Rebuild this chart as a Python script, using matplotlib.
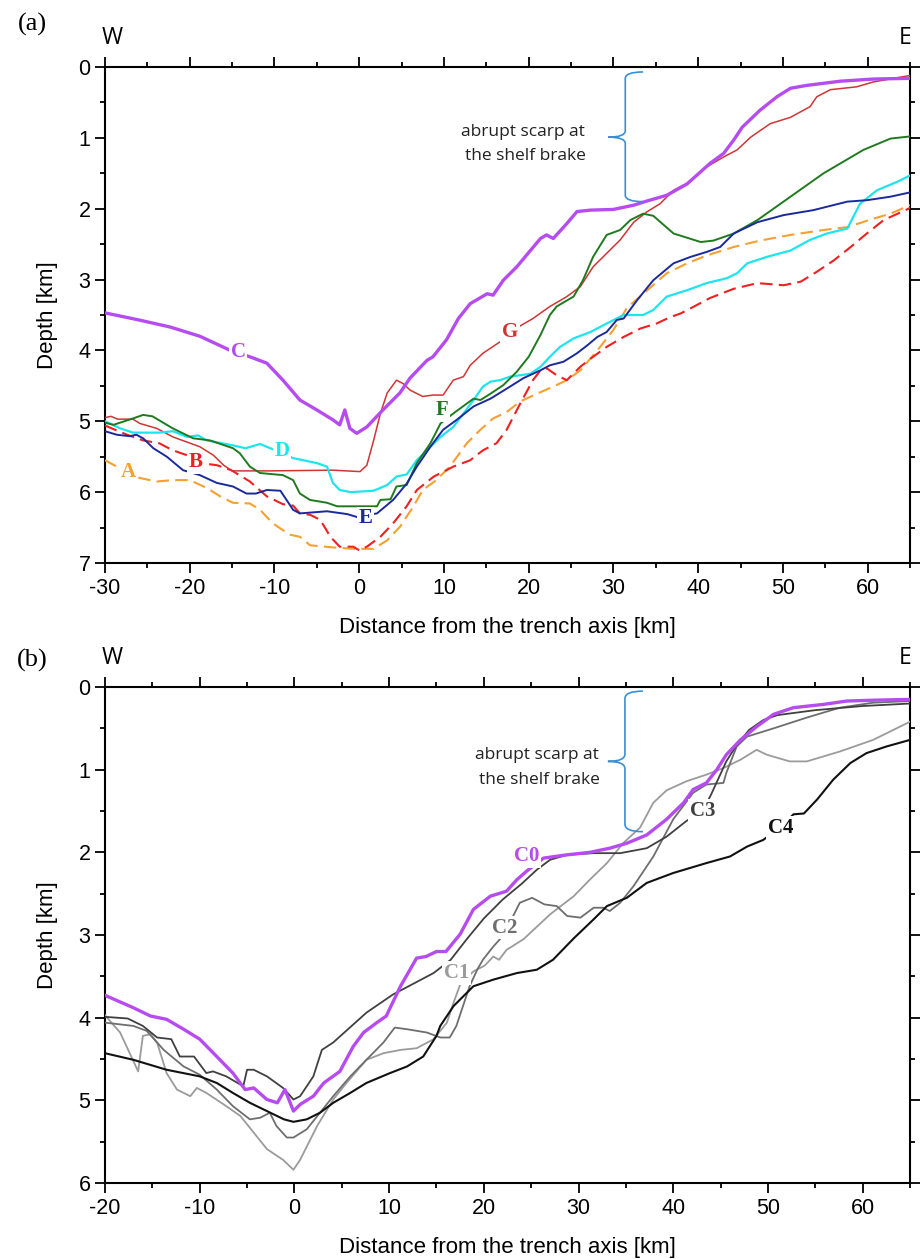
import numpy as np
import matplotlib
matplotlib.use("Agg")
import matplotlib.pyplot as plt
from matplotlib.ticker import MultipleLocator
from matplotlib.path import Path
from matplotlib.patches import PathPatch

plt.rcParams['font.family'] = ['Liberation Sans', 'DejaVu Sans']
plt.rcParams['axes.unicode_minus'] = False

# ---- panel (a): profiles A-G, (distance km, depth km) ----
prof_A = np.array([(-30, 5.55), (-28.6, 5.64), (-27.3, 5.73), (-25.9, 5.80), (-23.9, 5.85), (-22.0, 5.83),
                   (-20.0, 5.83), (-18.0, 5.94), (-16.4, 6.06), (-14.9, 6.15), (-12.9, 6.16), (-11.7, 6.25),
                   (-10.2, 6.44), (-8.2, 6.60), (-7.0, 6.63), (-5.8, 6.75), (-3.1, 6.78), (-0.7, 6.80),
                   (1.7, 6.80), (3.3, 6.68), (4.8, 6.49), (6.4, 6.20), (7.5, 5.97), (9.1, 5.83), (10.7, 5.64),
                   (12.7, 5.31), (14.3, 5.12), (15.8, 4.96), (17.4, 4.87), (19.0, 4.72), (21.0, 4.61),
                   (22.9, 4.51), (24.5, 4.42), (26.1, 4.28), (28.1, 4.00), (30.0, 3.71), (31.6, 3.40),
                   (34.0, 3.15), (36.3, 2.91), (38.7, 2.77), (41.0, 2.66), (44.2, 2.54), (47.3, 2.45),
                   (50.9, 2.37), (54.8, 2.30), (57.6, 2.26), (60.7, 2.14), (62.7, 2.07), (65.0, 1.95)])
prof_B = np.array([(-30, 5.06), (-27.4, 5.19), (-25.5, 5.27), (-23.6, 5.31), (-22.0, 5.41), (-20.3, 5.48),
                   (-19.3, 5.58), (-16.8, 5.62), (-15.1, 5.69), (-12.9, 5.85), (-10.9, 6.06), (-9.0, 6.17),
                   (-7.8, 6.19), (-7.0, 6.30), (-5.8, 6.32), (-4.6, 6.39), (-3.4, 6.63), (-2.3, 6.77),
                   (-0.7, 6.77), (0.0, 6.82), (0.9, 6.77), (2.5, 6.63), (4.0, 6.44), (5.6, 6.20), (6.8, 5.97),
                   (8.8, 5.78), (10.3, 5.69), (11.1, 5.64), (13.1, 5.55), (14.6, 5.41), (16.2, 5.31),
                   (17.4, 5.12), (19.0, 4.75), (20.5, 4.42), (21.4, 4.28), (22.1, 4.25), (23.3, 4.35),
                   (24.5, 4.42), (26.1, 4.23), (27.6, 4.09), (29.2, 3.95), (31.2, 3.81), (33.2, 3.69),
                   (35.1, 3.62), (36.7, 3.53), (37.9, 3.48), (39.2, 3.40), (41.4, 3.26), (44.2, 3.13),
                   (47.0, 3.05), (50.1, 3.08), (52.1, 3.03), (54.0, 2.89), (56.0, 2.73), (58.0, 2.54),
                   (59.9, 2.35), (61.9, 2.16), (65.0, 1.99)])
prof_C = np.array([(-30, 3.47), (-26, 3.57), (-22.3, 3.67), (-18.8, 3.80), (-15.2, 4.00), (-12.9, 4.09),
                   (-10.9, 4.18), (-9.0, 4.42), (-7.0, 4.70), (-5.0, 4.84), (-3.1, 4.98), (-2.3, 5.05),
                   (-1.7, 4.84), (-1.1, 5.10), (-0.3, 5.17), (0.9, 5.08), (2.8, 4.84), (4.8, 4.60),
                   (6.0, 4.39), (8.0, 4.14), (8.7, 4.09), (10.3, 3.85), (11.7, 3.55), (13.1, 3.34),
                   (15.1, 3.20), (15.8, 3.22), (17.0, 3.01), (18.6, 2.82), (20.2, 2.59), (21.4, 2.42),
                   (22.1, 2.37), (22.9, 2.42), (24.5, 2.21), (25.7, 2.04), (27.3, 2.02), (30.0, 2.01),
                   (32.4, 1.95), (34.0, 1.89), (36.3, 1.81), (38.7, 1.65), (41.4, 1.36), (43.0, 1.22),
                   (44.2, 1.03), (45.2, 0.85), (47.3, 0.61), (49.3, 0.42), (50.9, 0.30), (52.8, 0.26),
                   (56.8, 0.20), (60.7, 0.17), (65.0, 0.16)])
prof_D = np.array([(-30, 5.00), (-28.2, 5.10), (-26.7, 5.16), (-23.6, 5.16), (-22.0, 5.14), (-20.3, 5.22),
                   (-19.0, 5.20), (-18.0, 5.27), (-14.9, 5.34), (-13.4, 5.38), (-11.7, 5.32), (-10.5, 5.38),
                   (-9.1, 5.45), (-7.8, 5.52), (-5.0, 5.59), (-3.8, 5.64), (-3.1, 5.87), (-2.3, 5.97),
                   (-1.0, 6.00), (1.7, 5.98), (3.3, 5.90), (4.4, 5.78), (5.6, 5.75), (6.8, 5.55), (8.4, 5.36),
                   (9.6, 5.22), (11.1, 5.08), (12.3, 4.89), (13.5, 4.70), (14.6, 4.51), (15.5, 4.44),
                   (16.6, 4.42), (17.8, 4.37), (20.2, 4.33), (21.4, 4.23), (22.5, 4.09), (23.7, 3.95),
                   (25.3, 3.83), (27.3, 3.74), (29.2, 3.62), (31.2, 3.50), (33.5, 3.50), (34.7, 3.43),
                   (36.3, 3.24), (38.7, 3.15), (41.0, 3.05), (43.4, 2.98), (44.6, 2.91), (45.8, 2.77),
                   (48.1, 2.68), (50.9, 2.59), (53.2, 2.44), (55.2, 2.35), (57.6, 2.28), (59.1, 1.93),
                   (61.1, 1.74), (63.5, 1.62), (65.0, 1.53)])
prof_E = np.array([(-30, 5.14), (-28.6, 5.19), (-27.1, 5.21), (-26.3, 5.19), (-25.5, 5.24), (-24.3, 5.38),
                   (-22.7, 5.50), (-20.8, 5.69), (-18.8, 5.76), (-16.8, 5.87), (-14.9, 5.92), (-13.3, 6.02),
                   (-12.2, 6.02), (-10.9, 5.97), (-9.3, 5.98), (-7.8, 6.25), (-7.0, 6.30), (-3.8, 6.27),
                   (-2.6, 6.29), (-1.4, 6.31), (-0.3, 6.35), (2.1, 6.30), (4.0, 6.11), (5.6, 5.88),
                   (6.8, 5.64), (8.4, 5.36), (9.9, 5.12), (11.5, 4.98), (13.5, 4.79), (15.5, 4.68),
                   (17.4, 4.54), (19.4, 4.39), (21.4, 4.28), (22.5, 4.21), (24.1, 4.16), (25.7, 4.04),
                   (26.9, 3.93), (28.1, 3.81), (29.2, 3.74), (30.4, 3.57), (31.2, 3.55), (32.8, 3.29),
                   (34.7, 3.01), (37.1, 2.77), (39.1, 2.68), (41.0, 2.61), (42.6, 2.54), (44.2, 2.35),
                   (47.0, 2.19), (50.1, 2.09), (53.6, 2.02), (57.6, 1.90), (59.9, 1.88), (62.7, 1.83),
                   (65.0, 1.77)])
prof_F = np.array([(-30, 5.02), (-29, 5.05), (-26.7, 4.96), (-25.5, 4.91), (-24.4, 4.93), (-22.0, 5.10),
                   (-19.6, 5.24), (-17.6, 5.27), (-14.9, 5.38), (-14.1, 5.45), (-12.9, 5.64), (-11.7, 5.73),
                   (-9.0, 5.76), (-7.8, 5.83), (-7.0, 6.02), (-5.8, 6.11), (-3.8, 6.15), (-2.6, 6.20),
                   (2.1, 6.20), (2.5, 6.11), (3.7, 6.10), (4.4, 5.92), (5.6, 5.90), (6.8, 5.59), (8.4, 5.31),
                   (9.6, 5.03), (11.1, 4.89), (13.5, 4.68), (14.3, 4.70), (15.5, 4.61), (17.0, 4.49),
                   (18.6, 4.30), (20.0, 4.09), (21.4, 3.78), (22.5, 3.50), (23.3, 3.38), (25.3, 3.24),
                   (26.4, 3.01), (27.6, 2.68), (29.2, 2.37), (30.8, 2.30), (32.0, 2.16), (33.5, 2.07),
                   (34.7, 2.10), (37.1, 2.35), (40.3, 2.47), (41.8, 2.45), (44.2, 2.35), (47.0, 2.16),
                   (50.9, 1.83), (54.8, 1.50), (59.5, 1.17), (62.7, 1.01), (65.0, 0.98)])
prof_G = np.array([(-30, 4.95), (-29.3, 4.93), (-28.5, 4.97), (-26.7, 4.97), (-25.9, 5.03), (-23.9, 5.10),
                   (-22.0, 5.22), (-18.8, 5.36), (-17.2, 5.48), (-16.0, 5.62), (-15.0, 5.70), (-10.6, 5.70),
                   (-3.1, 5.69), (0.1, 5.71), (0.9, 5.62), (1.7, 5.27), (2.5, 4.89), (3.3, 4.60), (4.4, 4.42),
                   (5.2, 4.47), (6.0, 4.56), (7.5, 4.65), (8.7, 4.63), (9.9, 4.63), (11.1, 4.42),
                   (12.3, 4.37), (13.1, 4.21), (14.6, 4.04), (16.6, 3.88), (17.8, 3.74), (19.2, 3.64),
                   (20.5, 3.55), (22.5, 3.38), (24.5, 3.24), (26.1, 3.10), (27.6, 2.82), (29.2, 2.63),
                   (30.8, 2.44), (32.4, 2.19), (34.0, 2.04), (35.5, 1.93), (37.1, 1.74), (38.7, 1.64),
                   (41.0, 1.41), (43.0, 1.27), (44.6, 1.17), (46.2, 0.99), (48.5, 0.80), (50.9, 0.71),
                   (53.2, 0.56), (54.0, 0.42), (55.6, 0.32), (58.7, 0.28), (60.7, 0.21), (65.0, 0.12)])

# ---- panel (b): profiles C0-C4 ----
prof_C0 = np.array([(-20, 3.73), (-17.0, 3.88), (-15.2, 3.98), (-13.5, 4.02), (-11.7, 4.14), (-10.0, 4.26),
                    (-8.2, 4.47), (-6.5, 4.67), (-5.2, 4.87), (-4.3, 4.85), (-2.9, 4.99), (-1.8, 5.03),
                    (-1.0, 4.87), (-0.1, 5.13), (0.6, 5.05), (2.0, 4.95), (3.1, 4.79), (4.8, 4.65),
                    (6.2, 4.35), (7.3, 4.18), (8.7, 4.06), (9.7, 3.98), (11.2, 3.62), (12.9, 3.28),
                    (13.9, 3.26), (15.0, 3.20), (16.0, 3.20), (17.5, 2.99), (18.9, 2.69), (20.7, 2.53),
                    (22.4, 2.47), (23.5, 2.33), (24.6, 2.22), (26.3, 2.07), (28.8, 2.03), (31.2, 2.00),
                    (33.3, 1.95), (35.1, 1.89), (37.2, 1.79), (39.3, 1.60), (41.1, 1.40), (42.1, 1.24),
                    (43.5, 1.16), (44.6, 1.00), (45.6, 0.82), (47.1, 0.64), (48.8, 0.48), (50.6, 0.33),
                    (52.7, 0.25), (55.9, 0.21), (58.3, 0.17), (61.1, 0.16), (65.0, 0.15)])
prof_C1 = np.array([(-20, 3.97), (-18.4, 4.18), (-16.5, 4.65), (-16.0, 4.22), (-15.2, 4.20), (-14.5, 4.30),
                    (-13.5, 4.67), (-12.4, 4.87), (-11.0, 4.95), (-10.3, 4.85), (-9.3, 4.91), (-7.2, 5.07),
                    (-5.7, 5.19), (-4.3, 5.39), (-2.9, 5.59), (-1.2, 5.72), (-0.1, 5.84), (0.6, 5.72),
                    (2.4, 5.31), (4.1, 4.99), (5.5, 4.79), (7.6, 4.51), (9.4, 4.43), (11.2, 4.39),
                    (12.9, 4.37), (14.7, 4.26), (16.1, 4.06), (16.8, 3.82), (17.5, 3.60), (18.9, 3.44),
                    (20.1, 3.37), (21.0, 3.26), (21.6, 3.30), (22.4, 3.18), (24.2, 3.05), (25.6, 2.90),
                    (27.0, 2.75), (29.5, 2.53), (31.2, 2.33), (33.0, 2.13), (34.7, 1.89), (36.5, 1.70),
                    (37.9, 1.40), (39.3, 1.25), (41.4, 1.14), (43.5, 1.06), (45.3, 0.98), (47.1, 0.88),
                    (48.8, 0.76), (49.9, 0.82), (52.3, 0.90), (54.1, 0.90), (57.6, 0.78), (61.1, 0.64),
                    (65.0, 0.42)])
prof_C2 = np.array([(-20, 4.06), (-17.0, 4.10), (-15.6, 4.16), (-13.8, 4.39), (-11.7, 4.59), (-10.0, 4.69),
                    (-8.2, 4.87), (-6.5, 5.07), (-4.7, 5.23), (-3.6, 5.21), (-2.6, 5.15), (-1.9, 5.31),
                    (-0.8, 5.45), (-0.1, 5.45), (1.3, 5.35), (2.7, 5.15), (4.1, 4.95), (5.9, 4.71),
                    (7.6, 4.51), (9.4, 4.30), (10.6, 4.12), (11.9, 4.14), (14.0, 4.18), (15.4, 4.24),
                    (16.4, 4.24), (17.1, 4.10), (17.8, 3.86), (18.5, 3.62), (19.3, 3.42), (19.9, 3.30),
                    (21.0, 3.14), (22.1, 3.00), (23.1, 2.77), (23.8, 2.61), (25.1, 2.55), (26.4, 2.63),
                    (27.7, 2.65), (28.8, 2.77), (30.2, 2.79), (31.6, 2.67), (32.6, 2.67), (33.3, 2.71),
                    (34.4, 2.61), (35.8, 2.41), (37.9, 2.05), (40.0, 1.60), (42.1, 1.28), (43.5, 1.18),
                    (45.3, 1.16), (45.6, 1.04), (46.7, 0.72), (47.8, 0.60), (50.6, 0.50), (54.1, 0.37),
                    (57.6, 0.25), (61.1, 0.19), (65.0, 0.17)])
prof_C3 = np.array([(-20, 3.99), (-17.6, 4.01), (-16.0, 4.10), (-14.5, 4.24), (-13.0, 4.26), (-12.1, 4.47),
                    (-10.6, 4.47), (-9.3, 4.67), (-8.6, 4.65), (-7.2, 4.71), (-5.4, 4.83), (-5.0, 4.63),
                    (-4.3, 4.63), (-2.9, 4.71), (-1.2, 4.85), (-0.1, 4.99), (0.6, 4.95), (2.0, 4.71),
                    (2.9, 4.39), (4.1, 4.30), (7.6, 3.94), (10.4, 3.72), (14.7, 3.46), (16.5, 3.30),
                    (18.2, 3.05), (20.0, 2.80), (22.0, 2.57), (24.0, 2.38), (25.6, 2.21), (27.0, 2.09),
                    (28.8, 2.03), (31.6, 2.01), (34.4, 2.01), (37.2, 1.95), (39.3, 1.81), (41.4, 1.62),
                    (43.1, 1.50), (44.0, 1.30), (44.8, 1.10), (45.6, 0.90), (46.6, 0.72), (48.0, 0.52),
                    (49.5, 0.40), (51.0, 0.34), (55.0, 0.28), (60.0, 0.23), (65.0, 0.20)])
prof_C4 = np.array([(-20, 4.43), (-17.0, 4.51), (-13.5, 4.63), (-10.0, 4.71), (-8.2, 4.79), (-6.5, 4.91),
                    (-4.7, 5.03), (-2.9, 5.13), (-1.1, 5.23), (-0.1, 5.26), (1.3, 5.23), (2.7, 5.15),
                    (4.1, 5.03), (5.9, 4.91), (7.6, 4.79), (10.1, 4.67), (11.9, 4.59), (13.6, 4.47),
                    (15.0, 4.22), (15.4, 4.10), (16.8, 3.86), (18.9, 3.62), (21.0, 3.54), (23.5, 3.46),
                    (25.6, 3.42), (27.3, 3.30), (29.5, 3.04), (31.6, 2.81), (33.0, 2.65), (35.1, 2.55),
                    (37.2, 2.37), (40.0, 2.25), (43.5, 2.13), (46.0, 2.05), (47.8, 1.93), (49.5, 1.85),
                    (51.3, 1.70), (52.7, 1.54), (53.8, 1.53), (55.2, 1.36), (56.9, 1.12), (58.7, 0.92),
                    (60.4, 0.80), (62.5, 0.72), (65.0, 0.64)])

# name, data, colour, width, dashed, label position
series_a = [
    ('A', prof_A, '#f5a030', 1.5, True, (-27.2, 5.71)),
    ('B', prof_B, '#ee2020', 1.5, True, (-19.3, 5.58)),
    ('G', prof_G, '#d03535', 1.1, False, (17.8, 3.74)),
    ('D', prof_D, '#1ee4ee', 1.6, False, (-9.1, 5.42)),
    ('F', prof_F, '#1f7a1f', 1.4, False, (9.75, 4.84)),
    ('E', prof_E, '#1a2a9a', 1.4, False, (0.7, 6.37)),
    ('C', prof_C, '#b64cf0', 2.4, False, (-14.3, 4.02)),
]
series_b = [
    ('C1', prof_C1, '#9b9b9b', 1.3, False, (17.1, 3.46)),
    ('C2', prof_C2, '#6e6e6e', 1.3, False, (22.2, 2.91)),
    ('C3', prof_C3, '#404040', 1.3, False, (43.1, 1.50)),
    ('C4', prof_C4, '#111111', 1.5, False, (51.3, 1.70)),
    ('C0', prof_C0, '#b64cf0', 2.4, False, (24.5, 2.05)),
]

BRACE_COL = '#3a8fd4'
fig = plt.figure(figsize=(9.22, 12.59), dpi=100)
ax_a = fig.add_axes([105/922, 1-563/1259, 805/922, 496/1259])
ax_b = fig.add_axes([105/922, 1-1183/1259, 805/922, 496/1259])


def draw_brace(ax, x, xh, xt, y0, ym, y1, r):
    verts = [(xh, y0), (x, y0), (x, y0 + r), (x, ym - r), (x, ym), (xt, ym),
             (x, ym), (x, ym + r), (x, y1 - r), (x, y1), (xh, y1)]
    codes = [Path.MOVETO, Path.CURVE3, Path.CURVE3, Path.LINETO, Path.CURVE3, Path.CURVE3,
             Path.CURVE3, Path.CURVE3, Path.LINETO, Path.CURVE3, Path.CURVE3]
    ax.add_patch(PathPatch(Path(verts, codes), fill=False, ec=BRACE_COL, lw=1.2, zorder=6))


def setup(ax, xmin, ymax, tag, ypos):
    ax.set_xlim(xmin, 65)
    ax.set_ylim(ymax, 0)
    ax.xaxis.set_major_locator(MultipleLocator(10))
    ax.xaxis.set_minor_locator(MultipleLocator(5))
    ax.yaxis.set_major_locator(MultipleLocator(1))
    ax.yaxis.set_minor_locator(MultipleLocator(0.5))
    ax.tick_params(which='both', direction='out', top=True, right=True, width=1.3,
                   labelsize=15.5, pad=3)
    ax.tick_params(which='major', length=7.5)
    ax.tick_params(which='minor', length=3.8)
    for sp in ax.spines.values():
        sp.set_linewidth(1.5)
    ax.set_xlabel('Distance from the trench axis [km]', fontsize=16, va='top')
    ax.xaxis.set_label_coords(0.5, -0.108)
    ax.set_ylabel('Depth [km]', fontsize=16)
    ax.yaxis.set_label_coords(-0.058, 0.5)
    fig.text(32/922, 1 - ypos/1259, tag, family='Liberation Serif', fontsize=19,
             ha='center', va='center')
    pos = ax.get_position()
    fig.text(pos.x0 + 7/922, pos.y1 + 29/1259, 'W', family='Open Sans', fontsize=16.5,
             ha='center', va='center')
    fig.text(pos.x1 + 1/922, pos.y1 + 29/1259, 'E', family='Open Sans', fontsize=16.5,
             ha='right', va='center')


def draw_series(ax, series):
    for name, prof, col, lw, dashed, lab in series:
        line, = ax.plot(prof[:, 0], prof[:, 1], color=col, lw=lw, zorder=3)
        if dashed:
            line.set_dashes((6, 3))
        ax.text(lab[0], lab[1], name, color=col, family='Liberation Serif', fontweight='bold',
                fontsize=15, ha='center', va='center', zorder=5,
                bbox=dict(boxstyle='square,pad=0.08', fc='white', ec='none'))


setup(ax_a, -30, 7, '(a)', 24)
draw_series(ax_a, series_a)
draw_brace(ax_a, 31.4, 33.5, 29.4, 0.07, 0.99, 1.9, 0.09)
ax_a.text(19.3, 0.92, 'abrupt scarp at', family='Open Sans', fontsize=12.5, color='#222222',
          ha='center', va='center')
ax_a.text(19.6, 1.26, 'the shelf brake', family='Open Sans', fontsize=12.5, color='#222222',
          ha='center', va='center')

setup(ax_b, -20, 6, '(b)', 660)
draw_series(ax_b, series_b)
draw_brace(ax_b, 34.9, 36.8, 33.1, 0.05, 0.9, 1.75, 0.09)
ax_b.text(25.6, 0.82, 'abrupt scarp at', family='Open Sans', fontsize=12.5, color='#222222',
          ha='center', va='center')
ax_b.text(25.9, 1.12, 'the shelf brake', family='Open Sans', fontsize=12.5, color='#222222',
          ha='center', va='center')

fig.savefig('out.png', dpi=100)
